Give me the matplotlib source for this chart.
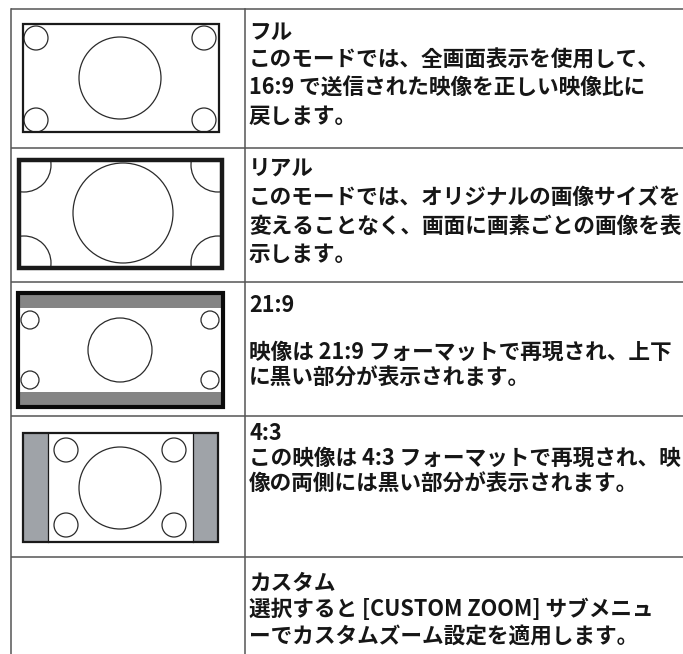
import matplotlib
matplotlib.use("Agg")
import matplotlib.pyplot as plt
from matplotlib.patches import Rectangle, Circle

plt.rcParams['font.family'] = ['Noto Sans CJK JP', 'DejaVu Sans']

# ---- content ----
titles = ["フル", "リアル", "21:9", "4:3", "カスタム"]
descriptions = [
    ["このモードでは、全画面表示を使用して、",
     "16:9 で送信された映像を正しい映像比に",
     "戻します。"],
    ["このモードでは、オリジナルの画像サイズを",
     "変えることなく、画面に画素ごとの画像を表",
     "示します。"],
    ["映像は 21:9 フォーマットで再現され、上下",
     "に黒い部分が表示されます。"],
    ["この映像は 4:3 フォーマットで再現され、映",
     "像の両側には黒い部分が表示されます。"],
    ["選択すると [CUSTOM ZOOM] サブメニュ",
     "ーでカスタムズーム設定を適用します。"],
]
# text line centre positions (pixels from top) per row: title, then description lines
title_y = [32, 168, 305, 433, 583]
desc_y = [[60, 88, 116], [197, 226, 254], [352, 378], [458, 484], [609, 636]]

row_lines = [9, 148, 282, 416, 557]
W, H = 683, 654
col_left, col_div = 11, 245
text_x = 249

fig = plt.figure(figsize=(W / 100, H / 100), dpi=100)
ax = fig.add_axes([0, 0, 1, 1])
ax.set_xlim(0, W)
ax.set_ylim(H, 0)
ax.axis('off')

line_col = '#555555'
lw = 1.1
for y in row_lines:
    ax.plot([col_left, W], [y, y], color=line_col, lw=lw, solid_capstyle='butt')
ax.plot([col_left, col_left], [row_lines[0], H], color=line_col, lw=lw)
ax.plot([col_div, col_div], [row_lines[0], H], color=line_col, lw=lw)

txt_col = '#161616'
fs = 15.6
for t, ty, lines, ys in zip(titles, title_y, descriptions, desc_y):
    ax.text(text_x, ty, t, fontsize=fs, fontweight='bold', color=txt_col,
            va='center', ha='left')
    for s, y in zip(lines, ys):
        ax.text(text_x, y, s, fontsize=fs, fontweight='bold', color=txt_col,
                va='center', ha='left')

circ_col = '#2a2a2a'

def frame(x0, y0, x1, y1, lwid, col='#1a1a1a'):
    r = Rectangle((x0, y0), x1 - x0, y1 - y0, fill=False, ec=col, lw=lwid, zorder=5)
    ax.add_patch(r)
    return r

def circ(cx, cy, r, clip=None, lwid=0.9):
    c = Circle((cx, cy), r, fill=False, ec=circ_col, lw=lwid, zorder=3)
    ax.add_patch(c)
    if clip is not None:
        c.set_clip_path(clip)

# Row 1: Full
frame(23, 24, 219, 132, 1.6)
circ(120, 78, 41)
for cx, cy in [(36, 38), (204, 38), (36, 120), (204, 120)]:
    circ(cx, cy, 12)

# Row 2: Real (cropped view)
clip2 = Rectangle((19, 160), 203, 108, transform=ax.transData, visible=False)
ax.add_patch(clip2)
frame(19, 160, 222, 268, 3.2)
circ(123, 213, 50)
for cx, cy in [(24, 165), (218, 165), (24, 263), (218, 263)]:
    circ(cx, cy, 27, clip=clip2)

# Row 3: 21:9
ax.add_patch(Rectangle((18, 293), 205, 114, fc='white', ec='none', zorder=1))
ax.add_patch(Rectangle((19, 295), 202, 13, fc='#858585', ec='none', zorder=2))
ax.add_patch(Rectangle((19, 392), 202, 13, fc='#858585', ec='none', zorder=2))
frame(18, 293, 223, 407, 3.0, col='#0a0a0a')
circ(120, 350, 32)
for cx, cy in [(30, 320), (210, 320), (30, 380), (210, 380)]:
    circ(cx, cy, 9)

# Row 4: 4:3
ax.add_patch(Rectangle((23, 433), 25, 109, fc='#9fa3a8', ec='none', zorder=2))
ax.add_patch(Rectangle((193, 433), 25, 109, fc='#9fa3a8', ec='none', zorder=2))
ax.plot([48, 48], [433, 542], color='#1a1a1a', lw=0.9, zorder=4)
ax.plot([193, 193], [433, 542], color='#1a1a1a', lw=0.9, zorder=4)
frame(23, 433, 218, 542, 1.6)
circ(120, 488, 41)
for cx, cy in [(66, 450), (174, 450), (66, 525), (174, 525)]:
    circ(cx, cy, 12)

fig.savefig('out.png', dpi=100)
